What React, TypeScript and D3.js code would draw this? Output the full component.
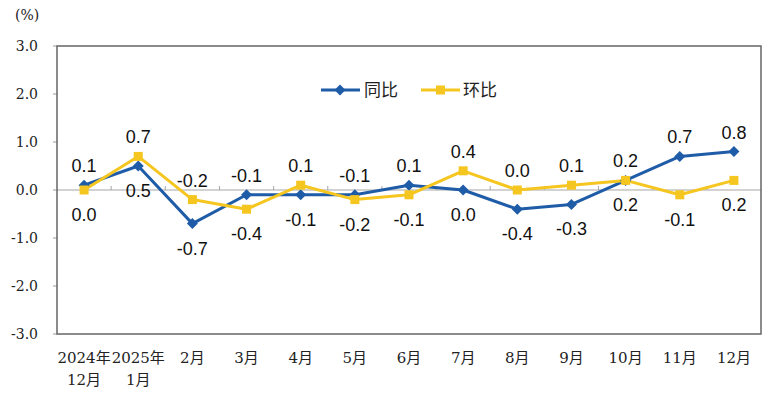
import React from 'react';
import * as d3 from 'd3';

// categories (two-line labels)
const months = ['2024年12月', '2025年1月', '2月', '3月', '4月', '5月', '6月', '7月', '8月', '9月', '10月', '11月', '12月'];
const monthLines = [['2024年', '12月'], ['2025年', '1月'], ['2月'], ['3月'], ['4月'], ['5月'], ['6月'], ['7月'], ['8月'], ['9月'], ['10月'], ['11月'], ['12月']];
const yoy = [0.1, 0.5, -0.7, -0.1, -0.1, -0.1, 0.1, 0.0, -0.4, -0.3, 0.2, 0.7, 0.8];
const mom = [0.0, 0.7, -0.2, -0.4, 0.1, -0.2, -0.1, 0.4, 0.0, 0.1, 0.2, -0.1, 0.2];
// where each value label sits: 1 = above the point, -1 = below
const yoyLabelSide = [1, -1, -1, 1, -1, 1, 1, -1, -1, -1, -1, 1, 1];
const momLabelSide = [-1, 1, 1, -1, 1, -1, -1, 1, 1, 1, 1, -1, -1];
const yTicks = [3, 2, 1, 0, -1, -2, -3];

const BLUE = '#1f5ca8';
const YELLOW = '#f5c520';

export default function App() {
  const W = 781, H = 399;
  const left = 57, right = 761, top = 46, bottom = 334;

  const x = d3.scaleBand().domain(months).range([left, right]);
  const y = d3.scaleLinear().domain([-3, 3]).range([bottom, top]);
  const cx = (i) => (x(months[i]) as number) + x.bandwidth() / 2;

  const line = d3.line<number>().x((d, i) => cx(i)).y((d) => y(d));

  const diamond = (px, py, r = 5.5) => `M${px},${py - r}L${px + r},${py}L${px},${py + r}L${px - r},${py}Z`;

  const labelFont = 'Liberation Sans, Arial, sans-serif';
  const serif = 'DejaVu Serif, Noto Sans CJK SC, serif';

  return (
    <svg width={W} height={H} style={{ position: 'absolute', left: 0, top: 0, background: '#fff' }}>
      <text x={15} y={20} fontFamily={serif} fontSize={14} fill="#222">(%)</text>

      {/* y axis ticks and labels */}
      {yTicks.map((t) => (
        <g key={t}>
          <line x1={left - 4} x2={left} y1={y(t)} y2={y(t)} stroke="#999" />
          <text x={38} y={y(t) + 5} textAnchor="end" fontFamily={serif} fontSize={14} fill="#222">
            {t.toFixed(1)}
          </text>
        </g>
      ))}

      {/* zero line with category ticks */}
      <line x1={left} x2={right} y1={y(0)} y2={y(0)} stroke="#a6a6a6" strokeWidth={1.2} />
      {months.slice(1).map((m) => (
        <line key={m} x1={x(m)} x2={x(m)} y1={y(0) - 4} y2={y(0)} stroke="#a6a6a6" />
      ))}

      <rect x={left} y={top} width={right - left} height={bottom - top} fill="none" stroke="#666" strokeWidth={1.5} />

      {/* x labels */}
      {monthLines.map((lines, i) => (
        <text key={i} textAnchor="middle" fontFamily={serif} fontSize={15} fill="#222">
          {lines.map((s, j) => (
            <tspan key={j} x={cx(i)} y={363 + j * 22}>{s}</tspan>
          ))}
        </text>
      ))}

      {/* series */}
      <path d={line(yoy) as string} fill="none" stroke={BLUE} strokeWidth={3} strokeLinejoin="round" />
      <path d={line(mom) as string} fill="none" stroke={YELLOW} strokeWidth={3} strokeLinejoin="round" />
      {yoy.map((v, i) => (
        <path key={'b' + i} d={diamond(cx(i), y(v))} fill={BLUE} />
      ))}
      {mom.map((v, i) => (
        <rect key={'y' + i} x={cx(i) - 4.5} y={y(v) - 4.5} width={9} height={9} fill={YELLOW} />
      ))}

      {/* value labels */}
      {yoy.map((v, i) => (
        <text key={'bl' + i} x={cx(i)} y={y(v) + (yoyLabelSide[i] > 0 ? -13 : 31)} textAnchor="middle" fontFamily={labelFont} fontSize={18} fill="#111">
          {v.toFixed(1)}
        </text>
      ))}
      {mom.map((v, i) => (
        <text key={'yl' + i} x={cx(i)} y={y(v) + (momLabelSide[i] > 0 ? -13 : 31)} textAnchor="middle" fontFamily={labelFont} fontSize={18} fill="#111">
          {v.toFixed(1)}
        </text>
      ))}

      {/* legend */}
      <line x1={321} x2={360} y1={90} y2={90} stroke={BLUE} strokeWidth={3} />
      <path d={diamond(340, 90)} fill={BLUE} />
      <text x={364} y={96} fontFamily="Noto Sans CJK SC, sans-serif" fontSize={17} fill="#222">同比</text>
      <line x1={421} x2={460} y1={90} y2={90} stroke={YELLOW} strokeWidth={3} />
      <rect x={436} y={85.5} width={9} height={9} fill={YELLOW} />
      <text x={463} y={96} fontFamily="Noto Sans CJK SC, sans-serif" fontSize={17} fill="#222">环比</text>
    </svg>
  );
}
